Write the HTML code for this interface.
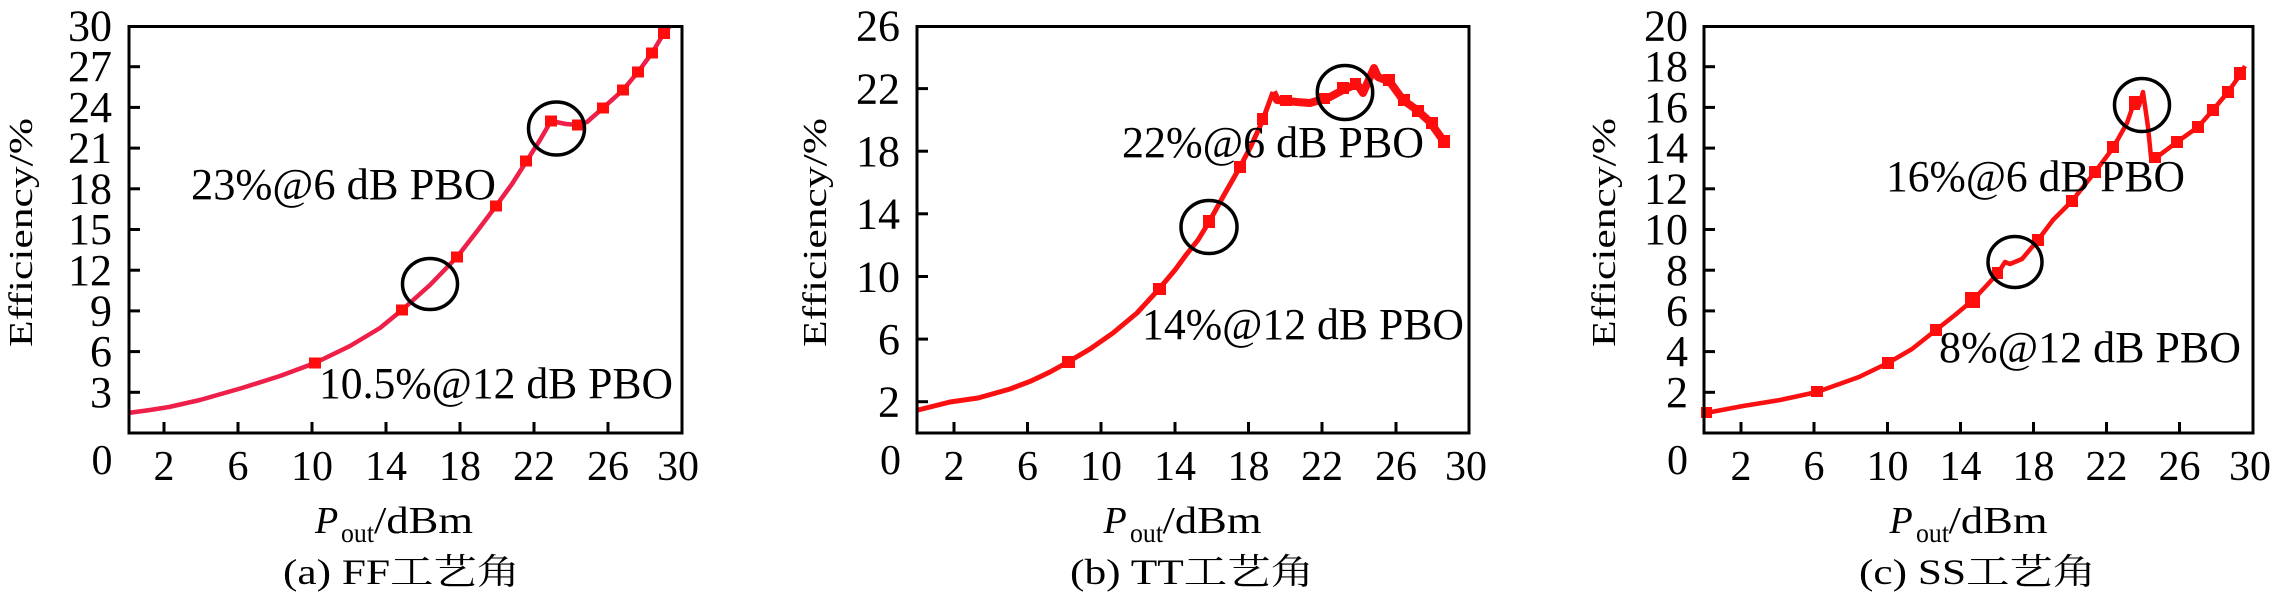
<!DOCTYPE html>
<html><head><meta charset="utf-8"><style>
html,body{margin:0;padding:0;background:#fff;}
svg{display:block;}
text{font-family:"Liberation Serif","Noto Serif CJK SC",serif;fill:#000;}
</style></head><body>
<svg width="2283" height="602" viewBox="0 0 2283 602" xmlns="http://www.w3.org/2000/svg">
<rect width="2283" height="602" fill="#fff"/>

<!-- ============ PANEL A ============ -->
<g>
<path d="M128,413 L150,410 L169,407 L200,400 L242,388 L280,376 L315,363 L350,346 L380,328 L402,310 L430,285 L457,257 L478,230 L496,206 L512,184 L526,162 L540,140 L551,121 L566,124 L578,125 L587,122 L603,108 L623,90 L638,72 L652,53 L664,33 L670,26" fill="none" stroke="#ee1f48" stroke-width="4.5" stroke-linejoin="round"/>
<g fill="#ff0d0d">
<rect x="309" y="357.5" width="12" height="11"/><rect x="396" y="304.5" width="12" height="11"/>
<rect x="451" y="251.5" width="12" height="11"/><rect x="490" y="200.5" width="12" height="11"/>
<rect x="520" y="155.5" width="12" height="11"/><rect x="545" y="115.5" width="12" height="11"/>
<rect x="572" y="119.5" width="12" height="11"/><rect x="597" y="102.5" width="12" height="11"/>
<rect x="617" y="84.5" width="12" height="11"/><rect x="632" y="66.5" width="12" height="11"/>
<rect x="646" y="47.5" width="12" height="11"/><rect x="658" y="28" width="12" height="11"/>
</g>
<ellipse cx="556.5" cy="128.5" rx="28" ry="26.5" fill="none" stroke="#000" stroke-width="3.5"/>
<ellipse cx="430" cy="284" rx="27.5" ry="25.5" fill="none" stroke="#000" stroke-width="3.5"/>
<rect x="129" y="26.5" width="553" height="406.5" fill="none" stroke="#000" stroke-width="3"/>
<g stroke="#000" stroke-width="3">
<line x1="164" y1="433" x2="164" y2="422"/><line x1="238" y1="433" x2="238" y2="422"/>
<line x1="312" y1="433" x2="312" y2="422"/><line x1="386" y1="433" x2="386" y2="422"/>
<line x1="460" y1="433" x2="460" y2="422"/><line x1="534" y1="433" x2="534" y2="422"/>
<line x1="608" y1="433" x2="608" y2="422"/>
<line x1="129" y1="392.3" x2="140" y2="392.3"/><line x1="129" y1="351.6" x2="140" y2="351.6"/>
<line x1="129" y1="310.9" x2="140" y2="310.9"/><line x1="129" y1="270.2" x2="140" y2="270.2"/>
<line x1="129" y1="229.5" x2="140" y2="229.5"/><line x1="129" y1="188.8" x2="140" y2="188.8"/>
<line x1="129" y1="148.1" x2="140" y2="148.1"/><line x1="129" y1="107.4" x2="140" y2="107.4"/>
<line x1="129" y1="66.7" x2="140" y2="66.7"/>
</g>
<g font-size="44" text-anchor="end">
<text x="112" y="407">3</text><text x="112" y="366">6</text><text x="112" y="325.5">9</text>
<text x="112" y="285">12</text><text x="112" y="244">15</text><text x="112" y="203.5">18</text>
<text x="112" y="162.5">21</text><text x="112" y="122">24</text><text x="112" y="81">27</text>
<text x="112" y="40.5">30</text>
</g>
<g font-size="42" text-anchor="middle">
<text x="102" y="474">0</text><text x="164" y="480">2</text><text x="238" y="480">6</text>
<text x="312" y="480">10</text><text x="386" y="480">14</text><text x="460" y="480">18</text>
<text x="534" y="480">22</text><text x="608" y="480">26</text><text x="678" y="480">30</text>
</g>
<text font-size="44" x="191" y="199" textLength="305" lengthAdjust="spacingAndGlyphs">23%@6 dB PBO</text>
<text font-size="44" x="319" y="398" textLength="354" lengthAdjust="spacingAndGlyphs">10.5%@12 dB PBO</text>
<text font-size="34" transform="translate(32,347) rotate(-90)" textLength="229" lengthAdjust="spacingAndGlyphs">Efficiency/%</text>
<text font-size="38" font-style="italic" x="315" y="533">P</text>
<text font-size="27" x="341" y="542" textLength="33" lengthAdjust="spacingAndGlyphs">out</text>
<text font-size="38" x="374" y="533" textLength="99" lengthAdjust="spacingAndGlyphs">/dBm</text>
<text font-size="36" x="283" y="584" textLength="237" lengthAdjust="spacingAndGlyphs">(a) FF工艺角</text>
</g>

<!-- ============ PANEL B ============ -->
<g>
<path d="M918,410 L950,402 L978,398 L1010,389 L1031,381 L1050,372 L1068,362 L1090,349 L1113,333 L1137,313 L1159,289 L1175,270 L1186,255 L1198,240 L1209,222 L1224,195 L1240,167 L1251,146 L1262,122 L1273,92" fill="none" stroke="#fa1010" stroke-width="5" stroke-linejoin="round"/>
<path d="M1273,92 L1277,100 L1297,102 L1310,103 L1330,97 L1343,90 L1357,84 L1363,93 L1374,68 L1378,77 L1390,82 L1403,100 L1417,110 L1430,122 L1445,143" fill="none" stroke="#fa1010" stroke-width="8" stroke-linejoin="round"/>
<g fill="#ff0d0d">
<rect x="1062" y="356" width="13" height="12"/><rect x="1153" y="283" width="13" height="12"/>
<rect x="1203" y="215" width="12" height="13"/><rect x="1234" y="161" width="12" height="12"/>
<rect x="1257" y="113" width="11" height="12"/><rect x="1280" y="95" width="12" height="11"/>
<rect x="1318" y="93" width="12" height="11"/><rect x="1337" y="82" width="12" height="12"/>
<rect x="1350" y="78" width="11" height="12"/><rect x="1383" y="74" width="12" height="12"/>
<rect x="1398" y="94" width="12" height="12"/><rect x="1412" y="105" width="12" height="12"/>
<rect x="1426" y="117" width="12" height="12"/><rect x="1438" y="135" width="12" height="13"/>
</g>
<ellipse cx="1345" cy="92.5" rx="27.7" ry="27" fill="none" stroke="#000" stroke-width="3.5"/>
<ellipse cx="1209" cy="227" rx="28" ry="26.5" fill="none" stroke="#000" stroke-width="3.5"/>
<rect x="917" y="26.5" width="552" height="406.5" fill="none" stroke="#000" stroke-width="3"/>
<g stroke="#000" stroke-width="3">
<line x1="954" y1="433" x2="954" y2="422"/><line x1="1027.5" y1="433" x2="1027.5" y2="422"/>
<line x1="1101" y1="433" x2="1101" y2="422"/><line x1="1175" y1="433" x2="1175" y2="422"/>
<line x1="1248.5" y1="433" x2="1248.5" y2="422"/><line x1="1322" y1="433" x2="1322" y2="422"/>
<line x1="1396" y1="433" x2="1396" y2="422"/>
<line x1="917" y1="401.7" x2="928" y2="401.7"/><line x1="917" y1="339.1" x2="928" y2="339.1"/>
<line x1="917" y1="276.5" x2="928" y2="276.5"/><line x1="917" y1="213.8" x2="928" y2="213.8"/>
<line x1="917" y1="151.2" x2="928" y2="151.2"/><line x1="917" y1="88.6" x2="928" y2="88.6"/>
</g>
<g font-size="44" text-anchor="end">
<text x="900" y="416.5">2</text><text x="900" y="354">6</text><text x="900" y="291.5">10</text>
<text x="900" y="228.5">14</text><text x="900" y="166">18</text><text x="900" y="103.5">22</text>
<text x="900" y="40.5">26</text>
</g>
<g font-size="42" text-anchor="middle">
<text x="890.5" y="474">0</text><text x="954" y="480">2</text><text x="1027.5" y="480">6</text>
<text x="1101" y="480">10</text><text x="1175" y="480">14</text><text x="1248.5" y="480">18</text>
<text x="1322" y="480">22</text><text x="1396" y="480">26</text><text x="1466" y="480">30</text>
</g>
<text font-size="44" x="1122" y="157" textLength="302" lengthAdjust="spacingAndGlyphs">22%@6 dB PBO</text>
<text font-size="44" x="1142" y="339" textLength="322" lengthAdjust="spacingAndGlyphs">14%@12 dB PBO</text>
<text font-size="34" transform="translate(826,347) rotate(-90)" textLength="229" lengthAdjust="spacingAndGlyphs">Efficiency/%</text>
<text font-size="38" font-style="italic" x="1103.5" y="533">P</text>
<text font-size="27" x="1130" y="542" textLength="33" lengthAdjust="spacingAndGlyphs">out</text>
<text font-size="38" x="1162.5" y="533" textLength="99" lengthAdjust="spacingAndGlyphs">/dBm</text>
<text font-size="36" x="1070" y="584" textLength="244" lengthAdjust="spacingAndGlyphs">(b) TT工艺角</text>
</g>

<!-- ============ PANEL C ============ -->
<g>
<path d="M1706,413 L1743,406 L1780,400 L1817,392 L1859,377 L1888,363 L1912,349 L1936,330 L1955,315 L1973,300 L1988,284 L1998,273 L2005,262 L2010,264 L2022,259 L2038,240 L2053,220 L2072,201 L2095,172 L2113,148 L2127,123 L2135,100 L2139,106 L2143,92 L2148,127 L2151,157 L2157,157 L2177,142 L2198,127 L2213,110 L2228,92 L2240,75 L2245,66" fill="none" stroke="#fa1010" stroke-width="4.5" stroke-linejoin="round"/>
<g fill="#ff0d0d">
<rect x="1701" y="407" width="11" height="11"/><rect x="1811" y="386" width="12" height="11"/>
<rect x="1882" y="357" width="12" height="12"/><rect x="1930" y="324" width="12" height="12"/>
<rect x="1965" y="292" width="15" height="16"/><rect x="1992" y="267" width="11" height="12"/>
<rect x="2032" y="234" width="12" height="12"/><rect x="2066" y="195" width="12" height="12"/>
<rect x="2089" y="166" width="12" height="12"/><rect x="2107" y="141" width="12" height="12"/>
<rect x="2129" y="96" width="11" height="14"/><rect x="2149" y="152" width="12" height="11"/>
<rect x="2171" y="136" width="12" height="12"/><rect x="2192" y="121" width="12" height="12"/>
<rect x="2207" y="104" width="12" height="12"/><rect x="2222" y="86" width="12" height="12"/>
<rect x="2234" y="67" width="12" height="13"/>
</g>
<ellipse cx="2142" cy="105" rx="27.5" ry="26.5" fill="none" stroke="#000" stroke-width="3.5"/>
<ellipse cx="2015" cy="262" rx="27" ry="25.5" fill="none" stroke="#000" stroke-width="3.5"/>
<rect x="1704" y="26.5" width="549" height="406.5" fill="none" stroke="#000" stroke-width="3"/>
<g stroke="#000" stroke-width="3">
<line x1="1741" y1="433" x2="1741" y2="422"/><line x1="1814" y1="433" x2="1814" y2="422"/>
<line x1="1887.5" y1="433" x2="1887.5" y2="422"/><line x1="1960.5" y1="433" x2="1960.5" y2="422"/>
<line x1="2033.5" y1="433" x2="2033.5" y2="422"/><line x1="2106.5" y1="433" x2="2106.5" y2="422"/>
<line x1="2179.5" y1="433" x2="2179.5" y2="422"/>
<line x1="1704" y1="392.3" x2="1715" y2="392.3"/><line x1="1704" y1="351.6" x2="1715" y2="351.6"/>
<line x1="1704" y1="310.9" x2="1715" y2="310.9"/><line x1="1704" y1="270.2" x2="1715" y2="270.2"/>
<line x1="1704" y1="229.5" x2="1715" y2="229.5"/><line x1="1704" y1="188.8" x2="1715" y2="188.8"/>
<line x1="1704" y1="148.1" x2="1715" y2="148.1"/><line x1="1704" y1="107.4" x2="1715" y2="107.4"/>
<line x1="1704" y1="66.7" x2="1715" y2="66.7"/>
</g>
<g font-size="44" text-anchor="end">
<text x="1688" y="407">2</text><text x="1688" y="366">4</text><text x="1688" y="325.5">6</text>
<text x="1688" y="285">8</text><text x="1688" y="244">10</text><text x="1688" y="203.5">12</text>
<text x="1688" y="162.5">14</text><text x="1688" y="122">16</text><text x="1688" y="81">18</text>
<text x="1688" y="40.5">20</text>
</g>
<g font-size="42" text-anchor="middle">
<text x="1677.5" y="474">0</text><text x="1741" y="480">2</text><text x="1814" y="480">6</text>
<text x="1887.5" y="480">10</text><text x="1960.5" y="480">14</text><text x="2033.5" y="480">18</text>
<text x="2106.5" y="480">22</text><text x="2179.5" y="480">26</text><text x="2250" y="480">30</text>
</g>
<text font-size="44" x="1886" y="191" textLength="299" lengthAdjust="spacingAndGlyphs">16%@6 dB PBO</text>
<text font-size="44" x="1939" y="362" textLength="302" lengthAdjust="spacingAndGlyphs">8%@12 dB PBO</text>
<text font-size="34" transform="translate(1615,347) rotate(-90)" textLength="229" lengthAdjust="spacingAndGlyphs">Efficiency/%</text>
<text font-size="38" font-style="italic" x="1889.5" y="533">P</text>
<text font-size="27" x="1916" y="542" textLength="33" lengthAdjust="spacingAndGlyphs">out</text>
<text font-size="38" x="1948.5" y="533" textLength="99" lengthAdjust="spacingAndGlyphs">/dBm</text>
<text font-size="36" x="1859" y="584" textLength="237" lengthAdjust="spacingAndGlyphs">(c) SS工艺角</text>
</g>
</svg>
</body></html>
